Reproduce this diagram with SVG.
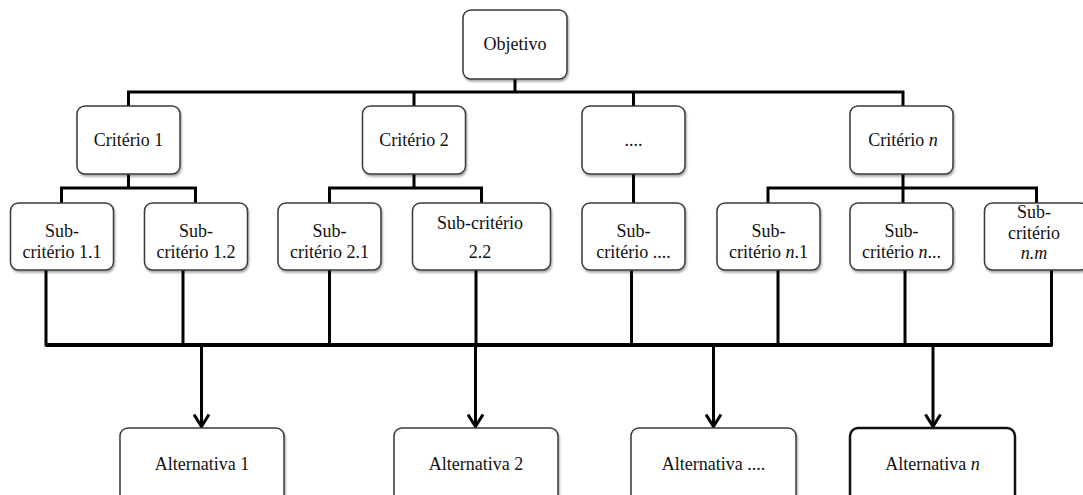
<svg xmlns="http://www.w3.org/2000/svg" width="1083" height="495" viewBox="0 0 1083 495">
  <style>
    .box { fill: #ffffff; stroke: #3a3a3a; stroke-width: 1.5; filter: url(#shadow); }
    .box-bold { fill: #ffffff; stroke: #111111; stroke-width: 2.5; }
    .lbl { font-size: 18px; fill: #111111; text-anchor: middle; }
    .wire { fill: none; stroke: #000000; stroke-width: 3; stroke-linecap: square; }
    .bus { fill: none; stroke: #000000; stroke-width: 4; }
    .arrow { fill: none; stroke: #000000; stroke-width: 3; marker-end: url(#chevron); }
  </style>
  <defs>
    <filter id="shadow" x="-10%" y="-10%" width="130%" height="130%">
      <feGaussianBlur in="SourceAlpha" stdDeviation="1.2"/>
      <feOffset dx="1" dy="1.5" result="blur"/>
      <feComponentTransfer><feFuncA type="linear" slope="0.35"/></feComponentTransfer>
      <feMerge><feMergeNode/><feMergeNode in="SourceGraphic"/></feMerge>
    </filter>
    <!-- open chevron head, drawn pointing along +x -->
    <marker id="chevron" viewBox="0 0 16 18" refX="14" refY="9" markerWidth="16" markerHeight="18" markerUnits="userSpaceOnUse" orient="auto">
      <path d="M1.5,1.5 L13.5,9 L1.5,16.5" fill="none" stroke="#000" stroke-width="3" stroke-linejoin="miter"/>
    </marker>
  </defs>

  <!-- connectors -->
  <g id="connectors">
    <!-- objective to criteria -->
    <path class="wire" d="M515,79 V92 M128.5,92 H903 M128.5,92 V106 M414,92 V106 M633.5,92 V106 M903,92 V106"/>
    <!-- criterion 1 to sub-criteria -->
    <path class="wire" d="M128.5,174 V188 M61.5,188 H195.5 M61.5,188 V203 M195.5,188 V203"/>
    <!-- criterion 2 to sub-criteria -->
    <path class="wire" d="M414,174 V188 M329.5,188 H481.5 M329.5,188 V203 M481.5,188 V203"/>
    <!-- ellipsis criterion -->
    <path class="wire" d="M633.5,174 V203"/>
    <!-- criterion n to sub-criteria -->
    <path class="wire" d="M903,174 V203 M768,188 H1036.5 M768,188 V203 M1036.5,188 V203"/>
    <!-- sub-criteria down to the bus -->
    <path class="wire" d="M46,270 V345 M183,270 V345 M329.5,270 V345 M476,270 V345 M631.5,270 V345 M778,270 V345 M905,270 V345 M1051.5,270 V345"/>
    <path class="bus" d="M46,345 H1051.5"/>
    <!-- bus to alternatives -->
    <path class="arrow" d="M201.5,345 V427"/>
    <path class="arrow" d="M475.5,345 V427"/>
    <path class="arrow" d="M713.5,345 V427"/>
    <path class="arrow" d="M933,345 V427"/>
  </g>

  <g font-family="Liberation Serif, Times New Roman, serif">
  <!-- goal -->
  <g id="objetivo">
    <rect class="box" x="463" y="10" width="104" height="69" rx="8"/>
    <text class="lbl" x="515" y="50">Objetivo</text>
  </g>

  <!-- criteria -->
  <g id="criterio-1">
    <rect class="box" x="77" y="106" width="103" height="68" rx="8"/>
    <text class="lbl" x="128.5" y="146">Critério 1</text>
  </g>
  <g id="criterio-2">
    <rect class="box" x="362.5" y="106" width="103" height="68" rx="8"/>
    <text class="lbl" x="414" y="146">Critério 2</text>
  </g>
  <g id="criterio-etc">
    <rect class="box" x="582" y="106" width="103" height="68" rx="8"/>
    <text class="lbl" x="633.5" y="146">....</text>
  </g>
  <g id="criterio-n">
    <rect class="box" x="850" y="106" width="103" height="68" rx="8"/>
    <text class="lbl" x="903" y="146">Critério <tspan font-style="italic">n</tspan></text>
  </g>

  <!-- sub-criteria -->
  <g id="sub-1-1">
    <rect class="box" x="10.5" y="203" width="103" height="67" rx="8"/>
    <text class="lbl" x="62" y="237">Sub-</text>
    <text class="lbl" x="62" y="258">critério 1.1</text>
  </g>
  <g id="sub-1-2">
    <rect class="box" x="144.5" y="203" width="103" height="67" rx="8"/>
    <text class="lbl" x="196" y="237">Sub-</text>
    <text class="lbl" x="196" y="258">critério 1.2</text>
  </g>
  <g id="sub-2-1">
    <rect class="box" x="278" y="203" width="103" height="67" rx="8"/>
    <text class="lbl" x="329.5" y="237">Sub-</text>
    <text class="lbl" x="329.5" y="258">critério 2.1</text>
  </g>
  <g id="sub-2-2">
    <rect class="box" x="412.5" y="203" width="138" height="67" rx="8"/>
    <text class="lbl" x="480" y="229">Sub-critério</text>
    <text class="lbl" x="480" y="258">2.2</text>
  </g>
  <g id="sub-etc">
    <rect class="box" x="582" y="203" width="103" height="67" rx="8"/>
    <text class="lbl" x="633.5" y="237">Sub-</text>
    <text class="lbl" x="633.5" y="258">critério ....</text>
  </g>
  <g id="sub-n-1">
    <rect class="box" x="717" y="203" width="103" height="67" rx="8"/>
    <text class="lbl" x="768.5" y="237">Sub-</text>
    <text class="lbl" x="768.5" y="258">critério <tspan font-style="italic">n</tspan>.1</text>
  </g>
  <g id="sub-n-etc">
    <rect class="box" x="850" y="203" width="103" height="67" rx="8"/>
    <text class="lbl" x="901.5" y="237">Sub-</text>
    <text class="lbl" x="901.5" y="258">critério <tspan font-style="italic">n</tspan>...</text>
  </g>
  <g id="sub-n-m">
    <rect class="box" x="984.5" y="203" width="104" height="67" rx="8"/>
    <text class="lbl" x="1034" y="218">Sub-</text>
    <text class="lbl" x="1034" y="239">critério</text>
    <text class="lbl" x="1034" y="259" font-style="italic">n.m</text>
  </g>

  <!-- alternatives -->
  <g id="alternativa-1">
    <rect class="box" x="120" y="428" width="164" height="80" rx="8"/>
    <text class="lbl" x="202" y="470">Alternativa 1</text>
  </g>
  <g id="alternativa-2">
    <rect class="box" x="394" y="428" width="164" height="80" rx="8"/>
    <text class="lbl" x="476" y="470">Alternativa 2</text>
  </g>
  <g id="alternativa-etc">
    <rect class="box" x="631" y="428" width="165" height="80" rx="8"/>
    <text class="lbl" x="713.5" y="470">Alternativa ....</text>
  </g>
  <g id="alternativa-n">
    <rect class="box-bold" x="850" y="428" width="165" height="80" rx="8"/>
    <text class="lbl" x="932.5" y="470">Alternativa <tspan font-style="italic">n</tspan></text>
  </g>
  </g>
</svg>
